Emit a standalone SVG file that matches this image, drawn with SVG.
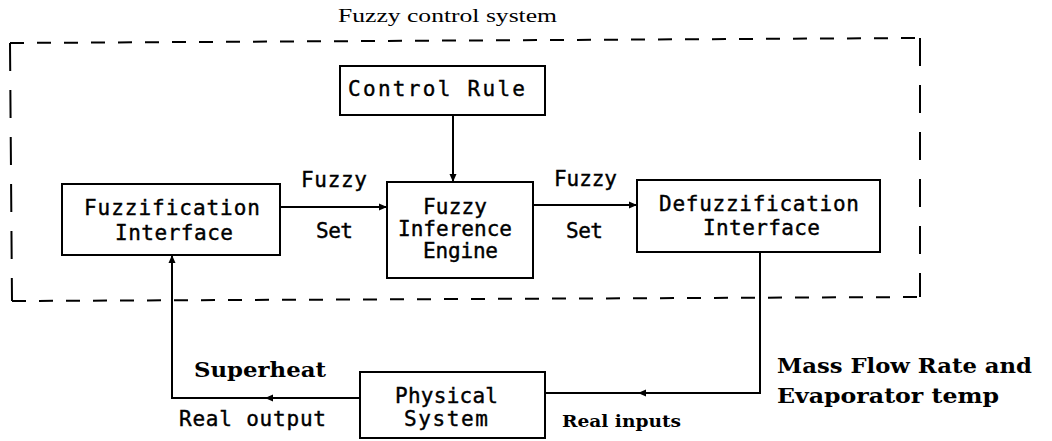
<svg xmlns="http://www.w3.org/2000/svg" width="1052" height="441" viewBox="0 0 1052 441">
<style>
.box{fill:#fff;stroke:#000;stroke-width:2}
.mono{font-family:"DejaVu Sans Mono","Liberation Mono",monospace;font-size:21px;fill:#000;stroke:#000;stroke-width:0.4}
.serif{font-family:"Liberation Serif","DejaVu Serif",serif;fill:#000}
.bs{font-family:"DejaVu Serif","Liberation Serif",serif;font-weight:bold;fill:#000}
.line{fill:none;stroke:#000;stroke-width:2}
.dh{fill:none;stroke:#000;stroke-width:2;stroke-dasharray:14 13}
.dv{fill:none;stroke:#000;stroke-width:2;stroke-dasharray:28 19}
</style>
<defs>
<marker id="ah" markerUnits="userSpaceOnUse" markerWidth="9" markerHeight="8" refX="8" refY="4" orient="auto">
<path d="M0,0.5 L8,4 L0,7.5 Z" fill="#000"/>
</marker>
</defs>
<rect width="1052" height="441" fill="#fff"/>
<g id="boundary">
<path class="dh" d="M10,43 L918,38"/>
<path class="dh" d="M12,301 L920,297"/>
<path class="dv" d="M10,43 L12,301"/>
<path class="dv" d="M920,38 L920,297"/>
<text class="serif" x="338" y="22" font-size="19" textLength="219" lengthAdjust="spacingAndGlyphs">Fuzzy control system</text>
</g>
<g id="connectors">
<path class="line" d="M453,115 V182" marker-end="url(#ah)"/>
<path class="line" d="M280,207 H387" marker-end="url(#ah)"/>
<path class="line" d="M533,205 H637" marker-end="url(#ah)"/>
<path class="line" d="M760,252 V393 H638" marker-end="url(#ah)"/>
<path class="line" d="M638,393 H545"/>
<path class="line" d="M360,398 H265" marker-end="url(#ah)"/>
<path class="line" d="M265,398 H172 V255" marker-end="url(#ah)"/>
<text class="mono" x="301" y="187" textLength="66">Fuzzy</text>
<text class="mono" x="316" y="238" textLength="37">Set</text>
<text class="mono" x="554" y="186" textLength="63">Fuzzy</text>
<text class="mono" x="566" y="238" textLength="37">Set</text>
<text class="bs" x="194" y="377" font-size="20" textLength="132" lengthAdjust="spacingAndGlyphs">Superheat</text>
<text class="mono" x="179" y="426" textLength="147">Real output</text>
<text class="bs" x="562" y="427" font-size="16" textLength="119" lengthAdjust="spacingAndGlyphs">Real inputs</text>
<text class="bs" x="777" y="373" font-size="21" textLength="255" lengthAdjust="spacingAndGlyphs">Mass Flow Rate and</text>
<text class="bs" x="777" y="403" font-size="21" textLength="222" lengthAdjust="spacingAndGlyphs">Evaporator temp</text>
</g>
<g id="control-rule">
<rect class="box" x="340" y="66" width="205" height="49"/>
<text class="mono" x="348" y="96" textLength="177">Control Rule</text>
</g>
<g id="fuzzification">
<rect class="box" x="62" y="184" width="218" height="71"/>
<text class="mono" x="84" y="215" textLength="176">Fuzzification</text>
<text class="mono" x="115" y="240" textLength="118">Interface</text>
</g>
<g id="inference">
<rect class="box" x="387" y="182" width="146" height="96"/>
<text class="mono" x="423" y="214" textLength="64">Fuzzy</text>
<text class="mono" x="398" y="236" textLength="114">Inference</text>
<text class="mono" x="423" y="258" textLength="75">Engine</text>
</g>
<g id="defuzzification">
<rect class="box" x="637" y="180" width="243" height="72"/>
<text class="mono" x="659" y="211" textLength="200">Defuzzification</text>
<text class="mono" x="703" y="235" textLength="117">Interface</text>
</g>
<g id="physical">
<rect class="box" x="360" y="372" width="185" height="66"/>
<text class="mono" x="395" y="403" textLength="103">Physical</text>
<text class="mono" x="404" y="426" textLength="84">System</text>
</g>
</svg>
